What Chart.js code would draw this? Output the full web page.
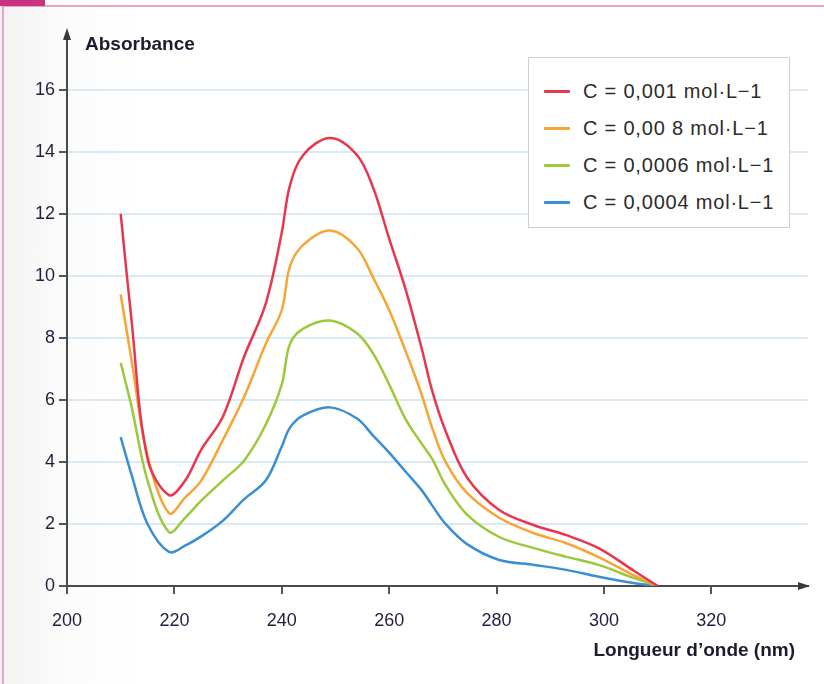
<!DOCTYPE html>
<html>
<head>
<meta charset="utf-8">
<script src="https://cdn.jsdelivr.net/npm/chart.js@4.4.0/dist/chart.umd.min.js"></script>
<style>
  html, body { margin: 0; padding: 0; background: #fff; }
  #wrap { position: relative; width: 824px; height: 684px; overflow: hidden;
          background: linear-gradient(to right, #f3f3f3 0px, #fcfcfc 70px, #fff 140px); }
  #frame { position: absolute; left: 2px; top: 5px; width: 830px; height: 690px;
           border-left: 2px solid #e2a6c8; border-top: 2px solid #e2a6c8; }
  #corner { position: absolute; left: 0; top: 0; width: 45px; height: 6px; background: #c8327e; }
  canvas { position: absolute; left: 0; top: 0; }
  #legend { position: absolute; left: 528px; top: 57px; width: 262px; height: 171px;
            background: #fff; border: 1.5px solid #cfcfcf; box-sizing: border-box;
            padding: 15px 0 0 15px; font-family: 'Liberation Sans', Arial, sans-serif;
            font-size: 20px; letter-spacing: 0.8px; color: #2b2b2b; }
  #legend .row { height: 37px; display: flex; align-items: center; white-space: nowrap; }
  #legend .sw { display: inline-block; width: 26px; height: 3px; margin-right: 13px; border-radius: 1px; }
</style>
</head>
<body>
<div id="wrap">
  <div id="frame"></div>
  <div id="corner"></div>
  <canvas id="chart" width="824" height="684"></canvas>
  <div id="legend"></div>
</div>
<script>
(function() {

  "use strict";

  // wavelength (nm)
  var wavelengths = [210, 212, 215, 219, 222, 225, 229, 233, 237, 240, 241.5, 244, 249,
                     254, 257, 260, 263, 266, 268, 270.5, 274.5, 280.5, 287, 293, 299, 305.5, 310];

  var absC0010 = [12.0, 8.6, 4.1, 2.93, 3.4, 4.4, 5.45, 7.4, 9.1, 11.4, 12.9, 13.9, 14.45,
                  13.9, 12.85, 11.2, 9.6, 7.7, 6.3, 5.0, 3.5, 2.45, 1.96, 1.64, 1.22, 0.5, 0];
  var absC0008 = [9.4, 7.3, 4.2, 2.35, 2.85, 3.4, 4.7, 6.1, 7.8, 8.9, 10.3, 11.0, 11.46,
                  10.9, 9.95, 8.9, 7.6, 6.2, 5.1, 4.0, 3.0, 2.2, 1.7, 1.38, 0.93, 0.35, 0];
  var absC0006 = [7.2, 5.8, 3.4, 1.74, 2.2, 2.75, 3.4, 4.05, 5.2, 6.5, 7.8, 8.3, 8.56,
                  8.15, 7.5, 6.5, 5.4, 4.6, 4.1, 3.25, 2.3, 1.58, 1.22, 0.94, 0.68, 0.26, 0];
  var absC0004 = [4.8, 3.6, 2.0, 1.1, 1.3, 1.6, 2.1, 2.8, 3.4, 4.5, 5.1, 5.5, 5.76,
                  5.4, 4.85, 4.3, 3.7, 3.1, 2.6, 2.0, 1.35, 0.84, 0.68, 0.52, 0.3, 0.1, 0];

  var seriesLabels = ["C = 0,001 mol·L−1", "C = 0,00 8 mol·L−1",
                      "C = 0,0006 mol·L−1", "C = 0,0004 mol·L−1"];
  var seriesColors = ["#e8364f", "#f7a534", "#9cc83a", "#3a8ed2"];

  var xTicks = [200, 220, 240, 260, 280, 300, 320];
  var yTicks = [0, 2, 4, 6, 8, 10, 12, 14, 16];

  var allSeries = [absC0010, absC0008, absC0006, absC0004];

  function toPoints(values) {
    return values.map(function(v, i) { return { x: wavelengths[i], y: v }; });
  }

  var datasets = allSeries.map(function(values, i) {
    return {
      label: seriesLabels[i],
      data: toPoints(values),
      borderColor: seriesColors[i],
      backgroundColor: seriesColors[i],
      borderWidth: 2.5,
      pointRadius: 0,
      showLine: true,
      tension: 0.35,
      fill: false
    };
  });

  var labelFont = "'Liberation Sans', Arial, sans-serif";

  var axisDecor = {
    id: 'axisDecor',
    afterDraw: function(chart) {
      var ctx = chart.ctx;
      var x0 = chart.scales.x.left;
      var y0 = chart.scales.y.bottom;
      var top = chart.chartArea.top;
      var right = chart.chartArea.right;
      ctx.save();
      ctx.fillStyle = '#3a3a3a';
      ctx.beginPath();
      ctx.moveTo(x0, top - 6);
      ctx.lineTo(x0 - 4, top + 6);
      ctx.lineTo(x0 + 4, top + 6);
      ctx.closePath();
      ctx.fill();
      ctx.beginPath();
      ctx.moveTo(right + 2, y0);
      ctx.lineTo(right - 10, y0 - 4);
      ctx.lineTo(right - 10, y0 + 4);
      ctx.closePath();
      ctx.fill();

      ctx.fillStyle = '#1c1c30';
      ctx.font = "bold 19px " + labelFont;
      ctx.textBaseline = 'middle';
      ctx.textAlign = 'left';
      ctx.fillText('Absorbance', 85, 45);
      ctx.textAlign = 'right';
      ctx.fillText('Longueur d’onde (nm)', 795, 651);
      ctx.restore();
    }
  };

  var absorbanceChart = new Chart(document.getElementById("chart"), {
    type: 'scatter',
    data: { datasets: datasets },
    plugins: [axisDecor],
    options: {
      responsive: false,
      animation: false,
      layout: { padding: { top: 34, right: 16, left: 0, bottom: 0 } },
      plugins: {
        legend: { display: false },
        tooltip: { enabled: false }
      },
      scales: {
        x: {
          type: 'linear',
          min: 200,
          max: 338,
          afterBuildTicks: function(scale) {
            scale.ticks = xTicks.map(function(v) { return { value: v }; });
          },
          afterFit: function(scale) { scale.height = 98; },
          border: { display: true, color: '#4a4a4a', width: 2 },
          grid: { drawOnChartArea: false, drawTicks: true, tickLength: 8, tickColor: '#555', lineWidth: 2 },
          ticks: { color: '#1f2040', padding: 16, font: { size: 18, family: labelFont } }
        },
        y: {
          type: 'linear',
          min: 0,
          max: 17.8,
          afterBuildTicks: function(scale) {
            scale.ticks = yTicks.map(function(v) { return { value: v }; });
          },
          afterFit: function(scale) { scale.width = 67; },
          border: { display: true, color: '#4a4a4a', width: 2 },
          grid: { color: '#d8eaf6', lineWidth: 2, drawTicks: true, tickLength: 8, tickColor: '#555' },
          ticks: { color: '#1f2040', padding: 4, font: { size: 18, family: labelFont } }
        }
      }
    }
  });

  // legend built from the chart's datasets
  var legendBox = document.getElementById("legend");
  absorbanceChart.data.datasets.forEach(function(ds) {
    var row = document.createElement("div");
    row.className = "row";
    var sw = document.createElement("span");
    sw.className = "sw";
    sw.style.background = ds.borderColor;
    row.appendChild(sw);
    row.appendChild(document.createTextNode(ds.label));
    legendBox.appendChild(row);
  });

})();
</script>
</body>
</html>
